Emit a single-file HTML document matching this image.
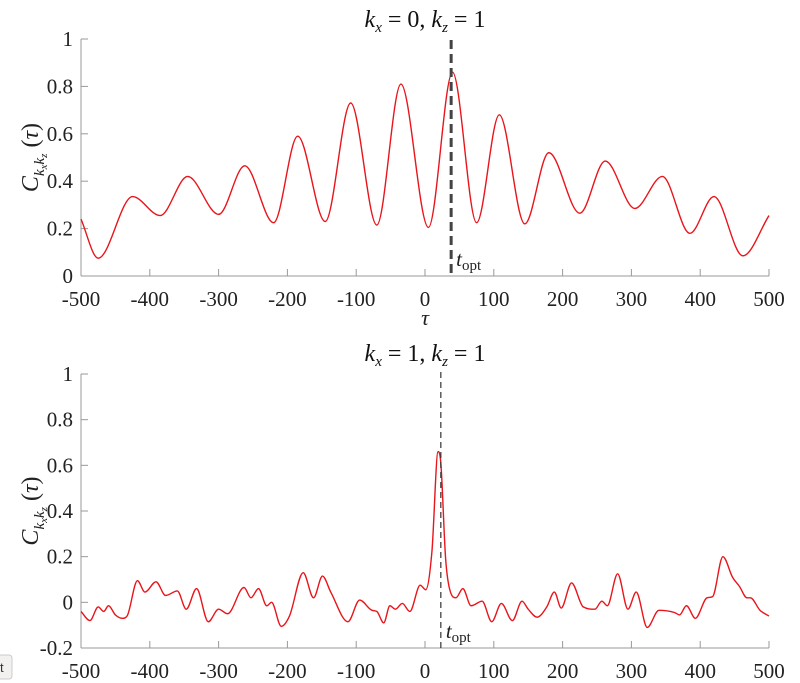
<!DOCTYPE html>
<html><head><meta charset="utf-8"><style>
html,body{margin:0;padding:0;background:#fff;}
svg{display:block;}
.tk{font-size:21px;fill:#222;}
.ax{stroke:#999;stroke-width:1;fill:none;}
</style></head><body>
<svg id="chart" width="800" height="683" viewBox="0 0 800 683" xmlns="http://www.w3.org/2000/svg" font-family="Liberation Serif, serif">
<rect width="800" height="683" fill="#fff"/>
<g id="top" font-family="Liberation Serif, serif"></g>
<g id="bot" font-family="Liberation Serif, serif"></g>
<rect x="-4" y="655" width="16" height="24" rx="3" fill="#f2f1ef" stroke="#ccc"/>
<text x="0" y="672" font-size="13" fill="#333" font-family="Liberation Sans, sans-serif">t</text>
</svg>
<script>
// Top panel data (kx=0, kz=1)
const topTau = [-500,-475,-425,-385,-345,-300,-262,-220,-185,-145,-108,-70,-35,5,40,75,108,145,180,225,262,305,345,385,420,462,500];
const topVal = [0.24,0.075,0.335,0.255,0.42,0.26,0.465,0.225,0.59,0.23,0.73,0.215,0.81,0.205,0.86,0.225,0.68,0.22,0.52,0.265,0.485,0.285,0.42,0.18,0.335,0.085,0.255];
const topOpt = 38;
const topYTicks = [0,0.2,0.4,0.6,0.8,1];
const topYLabels = ["0","0.2","0.4","0.6","0.8","1"];
// Bottom panel data (kx=1, kz=1)
const botTau = [-500,-487,-475,-467,-460,-450,-440,-433,-418,-407,-391,-377,-360,-347,-332,-315,-300,-287,-263,-253,-242,-230,-223,-209,-197,-177,-162,-149,-137,-112,-95,-77,-70,-60,-51,-43,-33,-22,-7,1,10,19,23,30,37,45,55,67,83,97,111,127,141,150,163,177,188,198,213,230,247,257,265,280,295,307,323,340,363,370,380,393,410,418,433,447,457,468,473,487,500];
const botVal = [-0.04,-0.08,-0.02,-0.04,-0.015,-0.055,-0.07,-0.06,0.095,0.045,0.09,0.03,0.05,-0.03,0.06,-0.085,-0.03,-0.05,0.065,0.02,0.06,-0.015,0,-0.105,-0.06,0.13,0.02,0.115,0.045,-0.085,0.01,-0.035,-0.04,-0.09,-0.015,-0.03,-0.005,-0.04,0.075,0.055,0.22,0.66,0.61,0.19,0.045,0.02,0.06,-0.015,0.005,-0.085,-0.005,-0.08,0.005,-0.03,-0.065,-0.02,0.045,-0.025,0.085,-0.02,-0.03,0.005,-0.015,0.125,-0.03,0.045,-0.11,-0.035,-0.045,-0.055,-0.015,-0.07,0.02,0.025,0.2,0.11,0.07,0.02,0.02,-0.035,-0.06];
const botOpt = 23;
const botYTicks = [-0.2,0,0.2,0.4,0.6,0.8,1];
const botYLabels = ["-0.2","0","0.2","0.4","0.6","0.8","1"];
const xTicks = [-500,-400,-300,-200,-100,0,100,200,300,400,500];
const xLabels = ["-500","-400","-300","-200","-100","0","100","200","300","400","500"];

const NS="http://www.w3.org/2000/svg";
function mk(parent,tag,attrs){const e=document.createElementNS(NS,tag);for(const k in attrs)e.setAttribute(k,attrs[k]);if(tag==="text")e.setAttribute("font-family","Liberation Serif, serif");parent.appendChild(e);return e;}

function monotone(xs,ys){
  const n=xs.length,d=[],m=new Array(n);
  for(let i=0;i<n-1;i++)d.push((ys[i+1]-ys[i])/(xs[i+1]-xs[i]));
  m[0]=d[0];m[n-1]=d[n-2];
  for(let i=1;i<n-1;i++){m[i]=(d[i-1]*d[i]<=0)?0:(d[i-1]+d[i])/2;}
  for(let i=0;i<n-1;i++){if(d[i]===0){m[i]=0;m[i+1]=0;continue;}const a=m[i]/d[i],b=m[i+1]/d[i],s=a*a+b*b;if(s>9){const t=3/Math.sqrt(s);m[i]=t*a*d[i];m[i+1]=t*b*d[i];}}
  let p="M"+xs[0].toFixed(2)+","+ys[0].toFixed(2);
  for(let i=0;i<n-1;i++){const h=xs[i+1]-xs[i];
    p+=" C"+(xs[i]+h/3).toFixed(2)+","+(ys[i]+m[i]*h/3).toFixed(2)+" "+(xs[i+1]-h/3).toFixed(2)+","+(ys[i+1]-m[i+1]*h/3).toFixed(2)+" "+xs[i+1].toFixed(2)+","+ys[i+1].toFixed(2);}
  return p;
}

function panel(g,cfg){
  const L=81,R=769,x=t=>L+(t+500)/1000*(R-L);
  const y=v=>cfg.y0+(v-cfg.ymin)/(cfg.ymax-cfg.ymin)*(cfg.y1-cfg.y0);
  const yax=mk(g,"line",{x1:L,y1:y(cfg.ymax),x2:L,y2:y(cfg.ymin),class:"ax"});
  
  
  const xax=mk(g,"line",{x1:L,y1:y(cfg.ymin),x2:R,y2:y(cfg.ymin),class:"ax"});
  
  
  cfg.yt.forEach((v,i)=>{
    const tl=mk(g,"line",{x1:L,y1:y(v),x2:L+7,y2:y(v),class:"ax"});
    
    
    const t=mk(g,"text",{x:L-8,y:y(v)+7,"text-anchor":"end",class:"tk"});t.textContent=cfg.yl[i];
    
    
  });
  xTicks.forEach((v,i)=>{
    const tl=mk(g,"line",{x1:x(v),y1:y(cfg.ymin),x2:x(v),y2:y(cfg.ymin)-7,class:"ax"});
    
    
    const t=mk(g,"text",{x:x(v),y:y(cfg.ymin)+30,"text-anchor":"middle",class:"tk"});t.textContent=xLabels[i];
    
    
  });
  const xs=cfg.tau.map(x),ys=cfg.val.map(y);
  const path=mk(g,"path",{d:monotone(xs,ys),fill:"none",stroke:"#e8151b","stroke-width":1.4});
  
  
  const ox=x(cfg.opt);
  const dl=mk(g,"line",{x1:ox,y1:cfg.dashTop,x2:ox,y2:y(cfg.ymin),stroke:cfg.dashColor,"stroke-width":cfg.dashW,"stroke-dasharray":cfg.dash});
  
  
  const lab=mk(g,"text",{x:ox+5,y:y(cfg.ymin)-10,"font-size":"21",fill:"#222"});
  lab.innerHTML='<tspan font-style="italic">t</tspan><tspan font-size="15" dy="4">opt</tspan>';
  
  
  const ti=mk(g,"text",{x:425,y:cfg.titleY,"text-anchor":"middle","font-size":"24",fill:"#111"});
  ti.innerHTML=cfg.title;
  
  
  const yl=mk(g,"text",{transform:"translate(38,"+((y(cfg.ymax)+y(cfg.ymin))/2)+") rotate(-90)","text-anchor":"middle","font-size":"24",fill:"#222"});
  yl.innerHTML='<tspan font-style="italic">C</tspan><tspan font-style="italic" font-size="15" dy="6">k</tspan><tspan font-style="italic" font-size="11" dy="3">x</tspan><tspan font-style="italic" font-size="15" dy="-3">k</tspan><tspan font-style="italic" font-size="11" dy="3">z</tspan><tspan dy="-9"> (</tspan><tspan font-style="italic">τ</tspan><tspan>)</tspan>';
  
  
}
const title=(a)=>'<tspan font-style="italic">k</tspan><tspan font-style="italic" font-size="15" dy="5">x</tspan><tspan dy="-5"> = '+a+', </tspan><tspan font-style="italic">k</tspan><tspan font-style="italic" font-size="15" dy="5">z</tspan><tspan dy="-5"> = 1</tspan>';
panel(document.getElementById("top"),{tau:topTau,val:topVal,opt:topOpt,yt:topYTicks,yl:topYLabels,ymin:0,ymax:1,y0:276,y1:39,dashTop:40,dashColor:"#444",dashW:3,dash:"9,5",titleY:27,title:title(0)});
panel(document.getElementById("bot"),{tau:botTau,val:botVal,opt:botOpt,yt:botYTicks,yl:botYLabels,ymin:-0.2,ymax:1,y0:648,y1:374,dashTop:372,dashColor:"#333",dashW:1.2,dash:"6,4",titleY:361,title:title(1)});
const tau=mk(document.getElementById("top"),"text",{x:425,y:325,"text-anchor":"middle","font-size":"22","font-style":"italic",fill:"#222"});
tau.textContent="τ";


</script>
</body></html>
